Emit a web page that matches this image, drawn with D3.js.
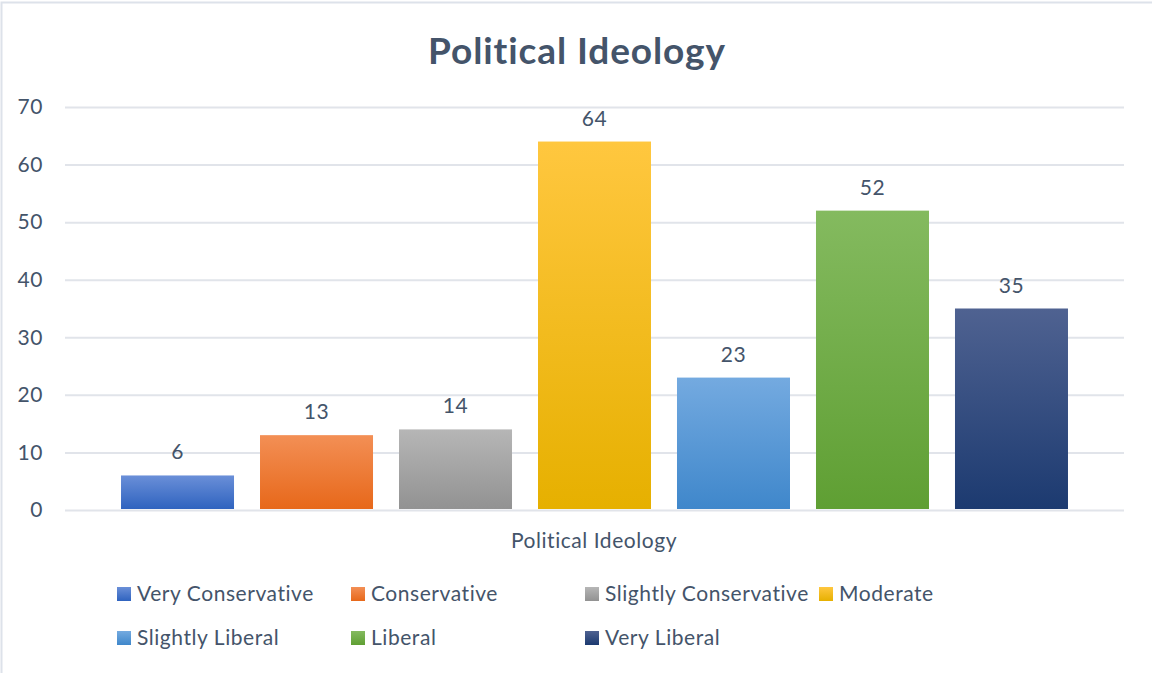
<!DOCTYPE html>
<html>
<head>
<meta charset="utf-8">
<script src="https://cdn.jsdelivr.net/npm/d3@7"></script>
<style>
  html, body { margin: 0; padding: 0; background: #ffffff; }
  svg { display: block; }
  text { font-family: Lato, "Open Sans", sans-serif; fill: #44546A; }
</style>
</head>
<body>
<svg id="chart" width="1152" height="673"></svg>
<script>
// Survey responses by political ideology
const categories = ["Very Conservative", "Conservative", "Slightly Conservative", "Moderate",
                    "Slightly Liberal", "Liberal", "Very Liberal"];
const counts = [6, 13, 14, 64, 23, 52, 35];
const yTicks = [0, 10, 20, 30, 40, 50, 60, 70];
const chartTitle = "Political Ideology";
const axisTitle = "Political Ideology";

// [top, bottom] gradient stops for each series
const topColors    = ["#6a8fd8", "#f38f55", "#b6b6b6", "#ffc73f", "#74aae0", "#84ba5f", "#4f6291"];
const bottomColors = ["#2f63bf", "#e7681a", "#929292", "#e6b000", "#3f87cb", "#5f9f33", "#1c3a70"];

const svg = d3.select("#chart");
const W = 1152, H = 673;
const plot = { left: 65, right: 1124, top: 107, bottom: 510 };
const labelFont = "21px";
const labelSpacing = "0.55px";

// chart frame
svg.append("rect")
  .attr("x", 1.5).attr("y", 2.5)
  .attr("width", W + 10).attr("height", H + 10)
  .attr("fill", "#ffffff")
  .attr("stroke", "#dde2ea").attr("stroke-width", 2);

const defs = svg.append("defs");
categories.forEach((c, i) => {
  const g = defs.append("linearGradient")
    .attr("id", "grad" + i)
    .attr("x1", 0).attr("y1", 0).attr("x2", 0).attr("y2", 1);
  g.append("stop").attr("offset", "0%").attr("stop-color", topColors[i]);
  g.append("stop").attr("offset", "100%").attr("stop-color", bottomColors[i]);
});

const x = d3.scaleBand()
  .domain(categories)
  .range([plot.left, plot.right])
  .paddingInner(0.187)
  .paddingOuter(0.403);

const y = d3.scaleLinear()
  .domain([0, 70])
  .range([plot.bottom, plot.top]);

// horizontal gridlines
const yAxis = d3.axisLeft(y)
  .tickValues(yTicks)
  .tickSize(-(plot.right - plot.left))
  .tickPadding(22)
  .tickFormat(d3.format("d"));

const gy = svg.append("g")
  .attr("transform", `translate(${plot.left},0)`)
  .call(yAxis);
gy.select(".domain").remove();
gy.selectAll(".tick line")
  .attr("stroke", "#e1e4ea").attr("stroke-width", 2);
gy.selectAll(".tick text")
  .attr("fill", "#44546A")
  .style("font-size", labelFont)
  .style("letter-spacing", labelSpacing)
  .style("font-family", "Lato, 'Open Sans', sans-serif");

// bars
svg.append("g").selectAll("rect")
  .data(categories)
  .join("rect")
  .attr("x", d => x(d))
  .attr("y", (d, i) => y(counts[i]))
  .attr("width", x.bandwidth())
  .attr("height", (d, i) => y(0) - y(counts[i]) - 1)
  .attr("fill", (d, i) => `url(#grad${i})`);

// value labels
svg.append("g").selectAll("text")
  .data(categories)
  .join("text")
  .attr("x", d => x(d) + x.bandwidth() / 2)
  .attr("y", (d, i) => y(counts[i]) - 16)
  .attr("text-anchor", "middle")
  .style("font-size", labelFont)
  .style("letter-spacing", labelSpacing)
  .text((d, i) => counts[i]);

// title
svg.append("text")
  .attr("x", 577).attr("y", 64)
  .attr("text-anchor", "middle")
  .style("font-size", "37px")
  .style("letter-spacing", "0.9px")
  .style("font-weight", "bold")
  .text(chartTitle);

// category axis title
svg.append("text")
  .attr("x", 594).attr("y", 548)
  .attr("text-anchor", "middle")
  .style("font-size", labelFont)
  .style("letter-spacing", labelSpacing)
  .text(axisTitle);

// legend
const legend = svg.append("g");
const colW = 234, rowH = 44, lx = 117, ly = 594;
categories.forEach((c, i) => {
  const col = i % 4, row = Math.floor(i / 4);
  const gx = lx + col * colW, gyy = ly + row * rowH;
  legend.append("rect")
    .attr("x", gx).attr("y", gyy - 7)
    .attr("width", 14).attr("height", 14)
    .attr("fill", `url(#grad${i})`);
  legend.append("text")
    .attr("x", gx + 20).attr("y", gyy + 7)
    .style("font-size", labelFont)
    .style("letter-spacing", labelSpacing)
    .text(c);
});
</script>
</body>
</html>
